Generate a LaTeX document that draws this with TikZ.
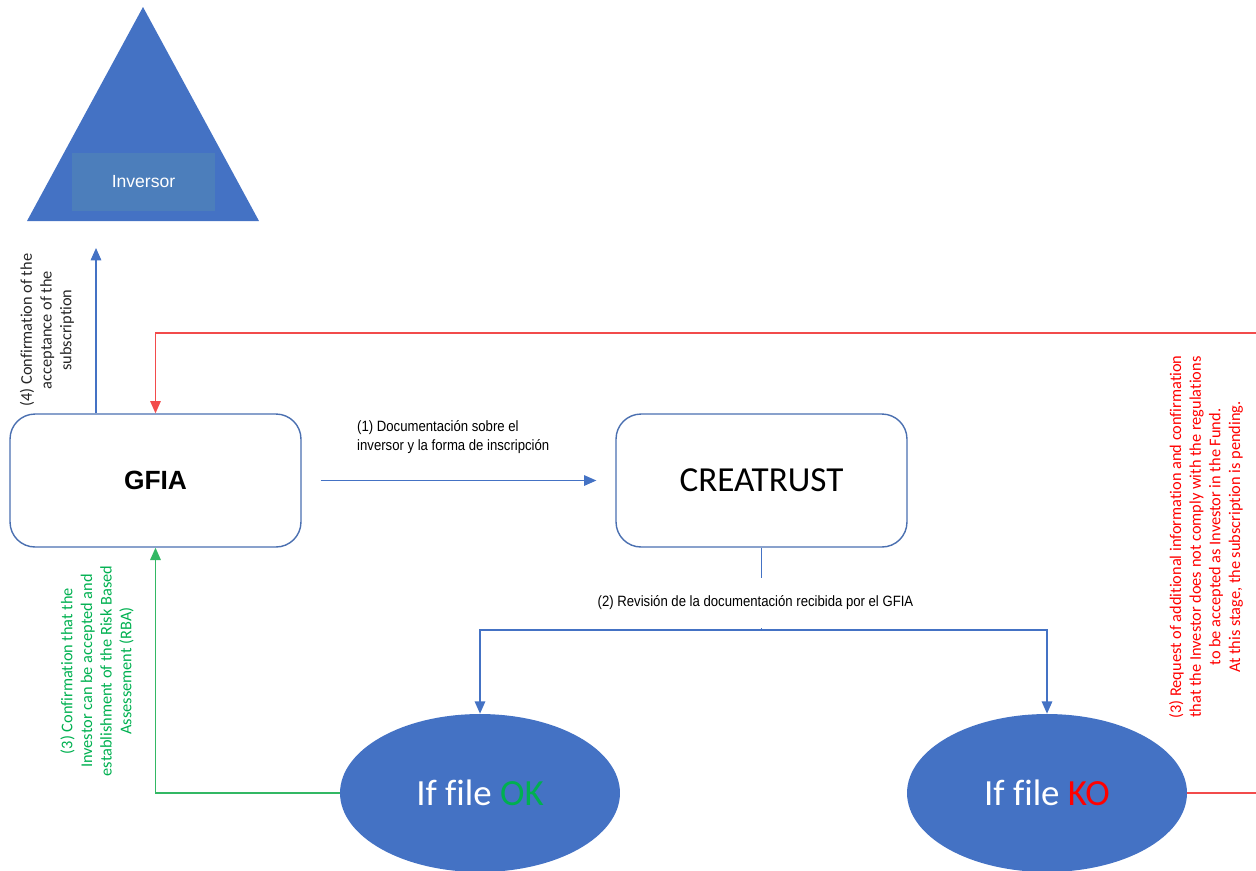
\documentclass[tikz,border=0pt]{standalone}
\usepackage{fontspec}
\setmainfont{Liberation Sans}
\newfontfamily\calibrifont[Ligatures=NoCommon]{Carlito}
\newfontfamily\narrowfont[FakeStretch=0.88]{Liberation Sans}
\usetikzlibrary{
	positioning				% relative placement
	, arrows.meta			% Triangle arrow tips
	, shapes.geometric		% ellipse nodes
	, calc
}
\definecolor{officeblue}{HTML}{4472C4}
\definecolor{boxline}{HTML}{4A6FB0}
\definecolor{labelblue}{HTML}{4C7EBB}
\definecolor{okgreen}{HTML}{00B050}
\definecolor{linegreen}{HTML}{33B864}
\definecolor{kored}{HTML}{FF0000}
\definecolor{linered}{HTML}{F24B4B}

\begin{document}
\begin{tikzpicture}[
		x=0.02cm, y=-0.02cm
		, entity/.style={draw=boxline, line width=0.8pt, rounded corners=0.5cm, minimum width=5.82cm, minimum height=2.66cm, inner sep=0pt}
		, outcome/.style={ellipse, fill=officeblue, minimum width=5.6cm, minimum height=3.16cm, inner sep=0pt, text=white, font=\calibrifont\fontsize{21}{25}\selectfont}
		, flow/.style={-{Triangle[length=7pt,width=6pt]}, officeblue, line width=0.75pt}
		, okflow/.style={flow, linegreen}
		, koflow/.style={flow, linered}
		, steplabel/.style={font=\narrowfont\fontsize{8.5}{10.8}\selectfont, align=left, text=black}
		, sidelabel/.style={rotate=90, align=center, font=\calibrifont\fontsize{9.3}{11.2}\selectfont}
	]

	% Fix the page to the size of the reference
	\useasboundingbox (0,0) rectangle (1256,870);

	% Draw the investor triangle with its name plate
	\fill[officeblue] (143,7) -- (27,221) -- (259,221) -- cycle;
	\node[fill=labelblue, minimum width=2.86cm, minimum height=1.16cm, text=white, font=\fontsize{10}{12}\selectfont] (inversor) at (143.5,182) {Inversor};
	\coordinate (toinversor) at (96,248);

	% Draw the two parties
	\node[entity, font=\fontsize{15}{18}\selectfont\bfseries] (gfia) at (155.5,480.5) {GFIA};
	\node[entity, font=\calibrifont\fontsize{20}{24}\selectfont] (creatrust) at (761.5,480.5) {CREATRUST};

	% Loop through both possible outcomes of the review
	\foreach \name/\xpos/\word/\col in {ok/480/OK/okgreen, ko/1047/KO/kored} {
		\node[outcome] (\name) at (\xpos,793) {If file \textcolor{\col}{\word}};
	};

	% (1) documentation sent to CREATRUST
	\draw[flow, shorten <=10.8pt, shorten >=10.8pt] (gfia.east) -- (creatrust.west);
	\node[steplabel, anchor=west] (doclabel) at (351,437) {(1) Documentación sobre el\\inversor y la forma de inscripción};

	% (2) review splits into both outcomes
	\coordinate (split) at (761.5,630);
	\draw[officeblue, line width=0.75pt] (creatrust.south) -- node[steplabel, pos=0.67, fill=white, minimum height=1cm, xshift=-0.12cm] (reviewlabel) {(2) Revisión de la documentación recibida por el GFIA} (split);
	\draw[flow] (split) -| (ok.north);
	\draw[flow] (split) -| (ko.north);

	% (3) answers back to the GFIA
	\draw[okflow] (ok.west) -| (gfia.south);
	\node[sidelabel, text=okgreen] (oklabel) at (97,671) {(3) Confirmation that the\\Investor can be accepted and\\establishment of the Risk Based\\Assessement (RBA)};
	\coordinate (kocorner) at (1262,333);
	\draw[koflow] (ko.east) -| (kocorner) -| (gfia.north);
	\node[sidelabel, text=kored] (kolabel) at (1206,537) {(3) Request of additional information and confirmation\\that the Investor does not comply with the regulations\\to be accepted as Investor in the Fund.\\At this stage, the subscription is pending.};

	% (4) confirmation to the investor
	\draw[flow] (toinversor |- gfia.north) -- (toinversor);
	\node[sidelabel, text=black!85] (confirmlabel) at (47,330) {(4) Confirmation of the\\acceptance of the\\subscription};
\end{tikzpicture}
\end{document}
